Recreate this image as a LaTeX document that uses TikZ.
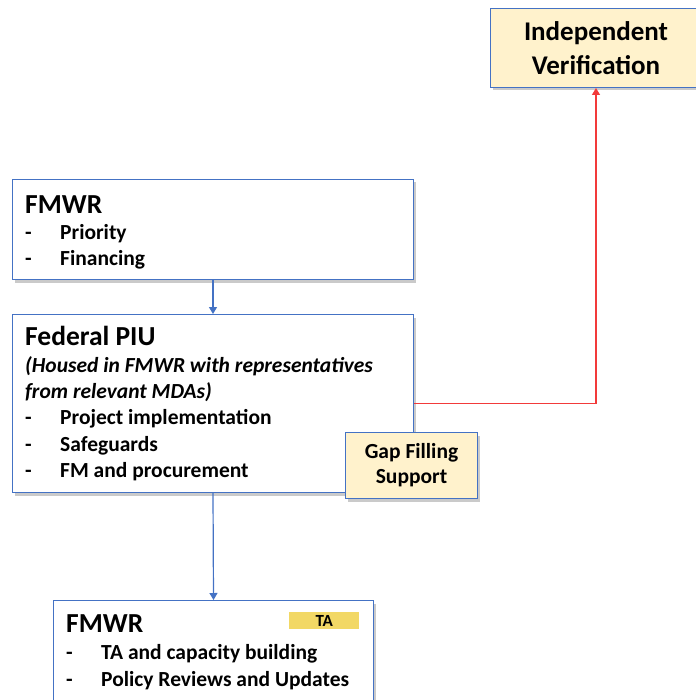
\documentclass[tikz,border=0pt]{standalone}
\usepackage{fontspec}
\setmainfont{Carlito}
\usepackage{xcolor}
\usetikzlibrary{shapes,arrows,arrows.meta,positioning,shadows}
\definecolor{boxblue}{HTML}{4472C4}
\definecolor{paleyellow}{HTML}{FFF2CC}
\definecolor{tayellow}{HTML}{F2D865}
\definecolor{linkred}{HTML}{F23A3A}
\newcommand{\bul}{\makebox[35pt][l]{-}}

\begin{document}
\begin{tikzpicture}[x=1pt, y=-1pt,
    box/.style={draw=boxblue, fill=white, line width=1pt, anchor=north west, inner sep=0pt,
        drop shadow={shadow xshift=2.5pt, shadow yshift=-3pt, fill=black!60, opacity=0.35}},
    note/.style={box, fill=paleyellow, align=center, font=\fontsize{21.5}{25}\selectfont\bfseries},
    body/.style={anchor=north west, align=left, inner sep=0pt, font=\fontsize{21.5}{26.3}\selectfont\bfseries},
    arrow/.style={-{Triangle[length=7pt,width=8pt]}, line width=1.2pt, color=boxblue},
    redarrow/.style={-{Triangle[length=7pt,width=8pt]}, line width=1.2pt, color=linkred}
]
\useasboundingbox (0,0) rectangle (695,700);

\node[note, minimum width=211pt, minimum height=79pt, font=\fontsize{27}{34}\selectfont\bfseries] (indep) at (490,8) {Independent\\Verification};

\node[box, minimum width=401pt, minimum height=100pt] (fmwr) at (12,179) {};
\node[body] (fmwrtext) at (25,195) {{\fontsize{27.5}{28}\selectfont FMWR}\\
    \bul Priority\\
    \bul Financing};

\node[box, minimum width=401pt, minimum height=178pt] (piu) at (12,314) {};
\node[body] (piutext) at (25,326.5) {{\fontsize{27.5}{28}\selectfont Federal PIU}\\
    \textit{(Housed in FMWR with representatives}\\
    \textit{from relevant MDAs)}\\
    \bul Project implementation\\
    \bul Safeguards\\
    \bul FM and procurement};

\node[note, minimum width=132pt, minimum height=66pt] (gap) at (345,432) {Gap Filling\\Support};

\node[box, minimum width=320pt, minimum height=110pt] (fmwrta) at (53,600) {};
\node[body] (fmwrtatext) at (66,614.5) {{\fontsize{27.5}{28}\selectfont FMWR}\\[0.5pt]
    \bul TA and capacity building\\[0.5pt]
    \bul Policy Reviews and Updates};
\node[fill=tayellow, anchor=north west, minimum width=70pt, minimum height=17pt, inner sep=0pt,
    font=\fontsize{17}{17}\selectfont\bfseries, text depth=-2pt] (ta) at (289,612) {TA};

\draw[arrow] (fmwr.south) -- (piu.north);
\draw[arrow] (piu.south) -- (fmwrta.north);
\draw[redarrow] (piu.east) -| (indep.south);

\end{tikzpicture}
\end{document}
